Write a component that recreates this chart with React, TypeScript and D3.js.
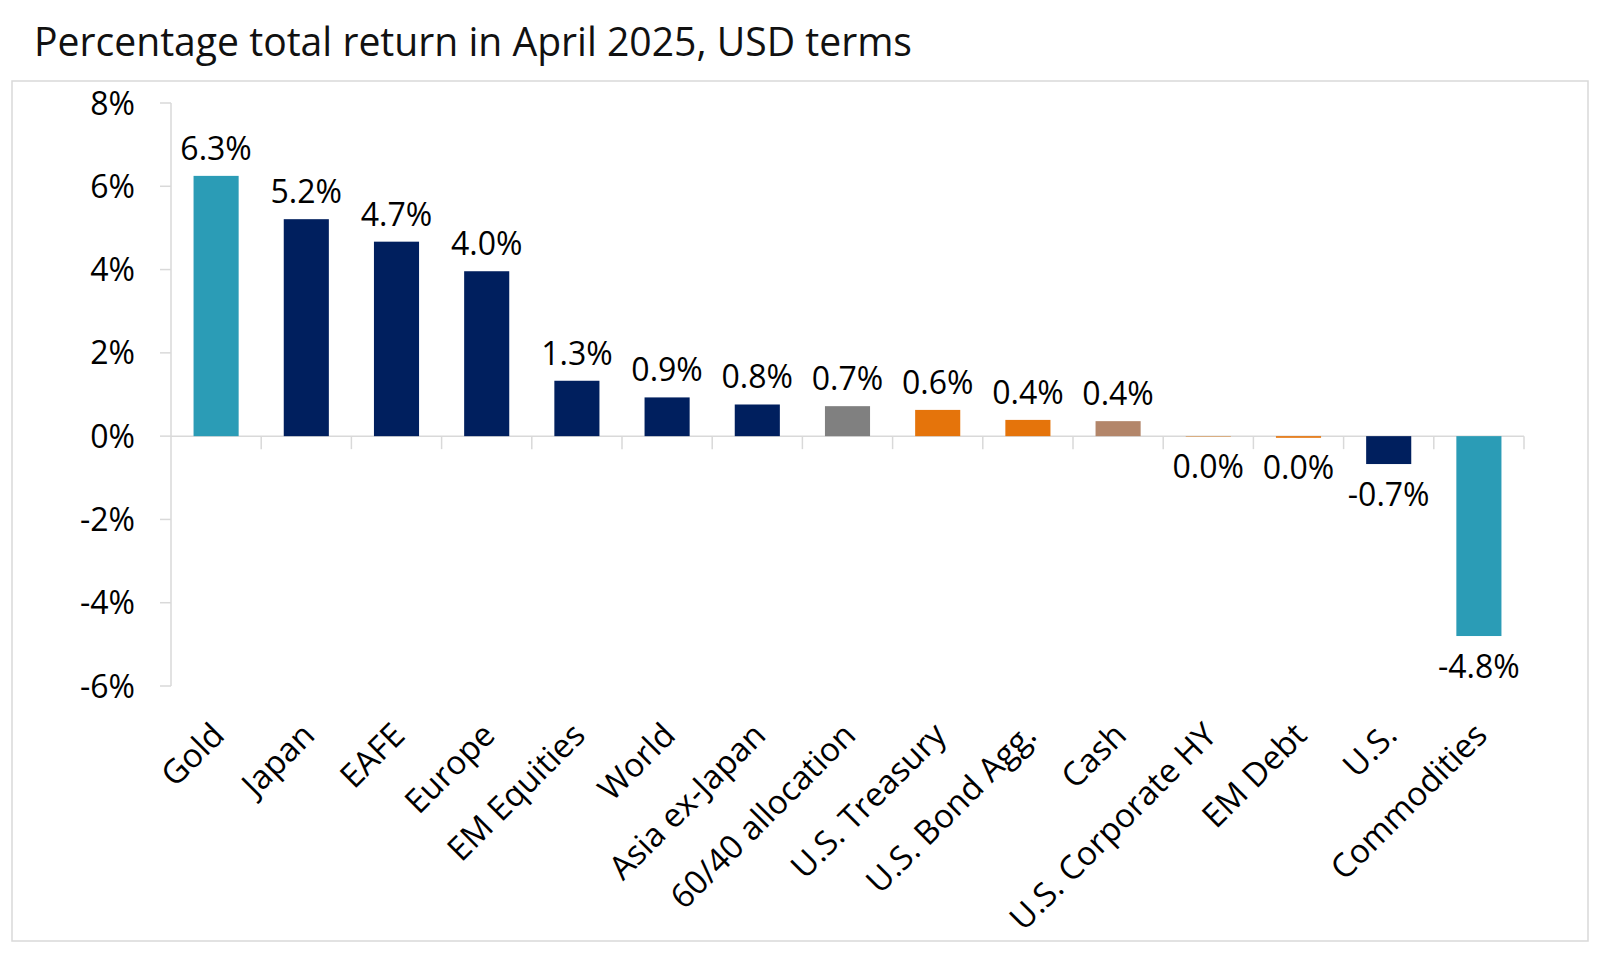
import React, { useEffect, useRef } from 'react';
import * as d3 from 'd3';

const categories = [
  'Gold', 'Japan', 'EAFE', 'Europe', 'EM Equities', 'World', 'Asia ex-Japan',
  '60/40 allocation', 'U.S. Treasury', 'U.S. Bond Agg.', 'Cash', 'U.S. Corporate HY',
  'EM Debt', 'U.S.', 'Commodities',
];
const returns = [6.25, 5.21, 4.67, 3.96, 1.33, 0.93, 0.76, 0.72, 0.63, 0.39, 0.36, -0.02, -0.04, -0.67, -4.8];
const barColors = [
  '#2b9cb6', '#001f5e', '#001f5e', '#001f5e', '#001f5e', '#001f5e', '#001f5e',
  '#808080', '#e5740b', '#e5740b', '#b3866a', '#d9a570', '#e5740b', '#001f5e', '#2b9cb6',
];
const yTicks = [8, 6, 4, 2, 0, -2, -4, -6];

const W = 1600;
const H = 974;
const FONT = "'Open Sans', 'Liberation Sans', sans-serif";

const fmt = (v: number) => {
  const s = v.toFixed(1);
  return (s === '-0.0' ? '0.0' : s) + '%';
};

const App: React.FC = () => {
  const svgRef = useRef<SVGSVGElement>(null);

  useEffect(() => {
    if (!svgRef.current) return;
    const svg = d3.select(svgRef.current);
    svg.selectAll('*').remove();

    const x0 = 171;
    const x1 = 1524;
    const y = d3.scaleLinear().domain([-6, 8]).range([686, 103]);
    const x = d3.scaleBand<string>().domain(categories).range([x0, x1]).paddingInner(0.5).paddingOuter(0.25);
    const step = x.step();

    // outer frame
    svg.append('rect')
      .attr('x', 12).attr('y', 81).attr('width', 1576).attr('height', 860)
      .attr('fill', 'none').attr('stroke', '#d9d9d9').attr('stroke-width', 1.5);

    // title
    svg.append('text')
      .attr('x', 34).attr('y', 56)
      .attr('textLength', 878).attr('lengthAdjust', 'spacingAndGlyphs')
      .attr('font-family', FONT).attr('font-size', 41).attr('fill', '#111')
      .text('Percentage total return in April 2025, USD terms');

    const axis = svg.append('g').attr('stroke', '#d9d9d9').attr('stroke-width', 1.5);
    // y axis line + ticks
    axis.append('line').attr('x1', x0).attr('x2', x0).attr('y1', y(8)).attr('y2', y(-6));
    axis.selectAll('.yt').data(yTicks).enter().append('line')
      .attr('x1', x0 - 11).attr('x2', x0).attr('y1', d => y(d)).attr('y2', d => y(d));
    // zero line + category ticks
    axis.append('line').attr('x1', x0).attr('x2', x1).attr('y1', y(0)).attr('y2', y(0));
    axis.selectAll('.xt').data(d3.range(1, categories.length + 1)).enter().append('line')
      .attr('x1', d => x0 + d * step).attr('x2', d => x0 + d * step)
      .attr('y1', y(0)).attr('y2', y(0) + 13);

    svg.selectAll('.ytl').data(yTicks).enter().append('text')
      .attr('x', 135).attr('y', d => y(d)).attr('dy', '0.36em')
      .attr('text-anchor', 'end').attr('font-family', FONT).attr('font-size', 32).attr('fill', '#000')
      .text(d => `${d}%`);

    // bars
    svg.selectAll('.bar').data(returns).enter().append('rect')
      .attr('x', (_, i) => x(categories[i])!)
      .attr('width', x.bandwidth())
      .attr('y', d => y(Math.max(0, d)))
      .attr('height', d => Math.abs(y(d) - y(0)))
      .attr('fill', (_, i) => barColors[i]);

    // value labels
    svg.selectAll('.val').data(returns).enter().append('text')
      .attr('x', (_, i) => x(categories[i])! + x.bandwidth() / 2)
      .attr('y', d => (d >= 0 ? y(d) - 16 : y(d) + 41.5))
      .attr('text-anchor', 'middle').attr('font-family', FONT).attr('font-size', 32).attr('fill', '#000')
      .text(d => fmt(d));

    // category labels
    svg.selectAll('.cat').data(categories).enter().append('text')
      .attr('transform', d => `translate(${x(d)! + x.bandwidth() / 2 + 2},${729}) rotate(-45)`)
      .attr('dy', '0.35em')
      .attr('text-anchor', 'end').attr('font-family', FONT).attr('font-size', 33).attr('fill', '#000')
      .text(d => d);
  }, []);

  return (
    <svg
      ref={svgRef}
      width={W}
      height={H}
      viewBox={`0 0 ${W} ${H}`}
      style={{ position: 'absolute', left: 0, top: 0, background: '#fff' }}
    />
  );
};

export default App;
